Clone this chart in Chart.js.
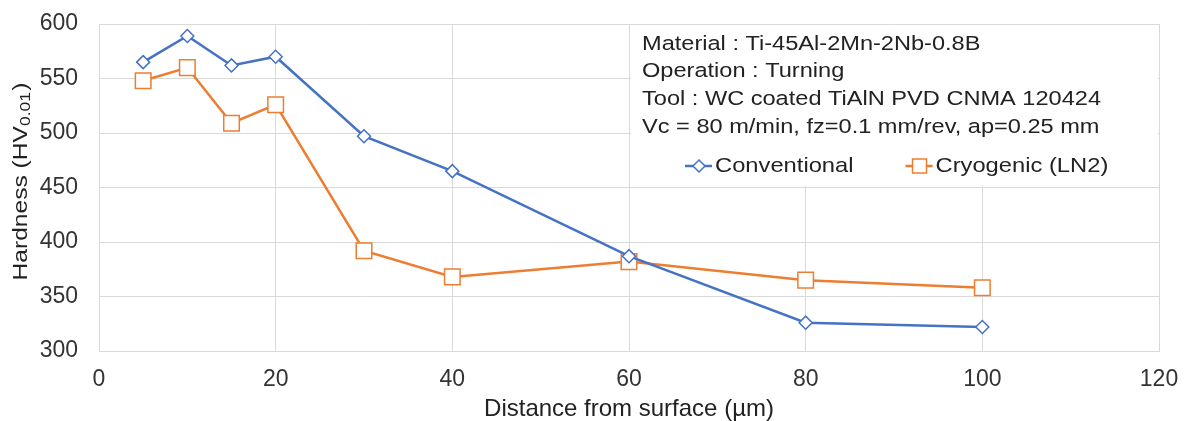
<!DOCTYPE html>
<html>
<head>
<meta charset="utf-8">
<script src="https://cdn.jsdelivr.net/npm/chart.js@4.4.1/dist/chart.umd.min.js"></script>
<style>
body { margin: 0; background: #fff; }
</style>
</head>
<body>
<canvas id="hardness_chart" width="1184" height="421"></canvas>
<script>
var depth = [5, 10, 15, 20, 30, 40, 60, 80, 100];
var conventional = [565, 589, 562, 570, 497, 465, 387, 326, 322];
var cryogenic = [548, 560, 509, 526, 392, 368, 382, 365, 358];
var series_names = ["Conventional", "Cryogenic (LN2)"];
var x_ticks = [0, 20, 40, 60, 80, 100, 120];
var y_ticks = [300, 350, 400, 450, 500, 550, 600];
var notes = [
    "Material : Ti-45Al-2Mn-2Nb-0.8B",
    "Operation : Turning",
    "Tool : WC coated TiAlN PVD CNMA 120424",
    "Vc = 80 m/min, fz=0.1 mm/rev, ap=0.25 mm"
];

var font_family = "'Liberation Sans', Arial, sans-serif";
var text_color = "#222";
var tick_color = "#333";
var blue = "#4472C4";
var orange = "#ED7D31";
var stretch = 1.15;   // the source font is a bit wider than Liberation Sans

function points(ys) {
    return depth.map(function(x, i) { return {x: x, y: ys[i]}; });
}

function wide_text(ctx, text, x, y, sx) {
    ctx.save();
    ctx.translate(x, y);
    ctx.scale(sx, 1);
    ctx.fillText(text, 0, 0);
    ctx.restore();
    return ctx.measureText(text).width * sx;
}

// white note box with text + legend, sits over the grid
var notes_box = {
    id: "notes_box",
    beforeDatasetsDraw: function(chart) {
        var ctx = chart.ctx;
        var area = chart.chartArea;
        var xs = chart.scales.x, ys = chart.scales.y;
        var left = xs.getPixelForValue(60) + 2;
        var top = area.top + 1;
        var bottom = ys.getPixelForValue(450) - 2;
        ctx.save();
        ctx.fillStyle = "#fff";
        ctx.fillRect(left, top, area.right - 1 - left, bottom - top);

        ctx.fillStyle = text_color;
        ctx.font = "20.5px " + font_family;
        ctx.textBaseline = "middle";
        ctx.textAlign = "left";
        for (var i = 0; i < notes.length; i++) {
            wide_text(ctx, notes[i], left + 11, top + 19 + i * 27.7, stretch);
        }

        // legend
        var colors = [blue, orange];
        var lx = left + 54, ly = top + 141;
        ctx.font = "21px " + font_family;
        for (var k = 0; k < series_names.length; k++) {
            ctx.strokeStyle = colors[k];
            ctx.lineWidth = 2.5;
            ctx.beginPath();
            ctx.moveTo(lx, ly);
            ctx.lineTo(lx + 27, ly);
            ctx.stroke();
            var cx = lx + 14;
            ctx.fillStyle = "#fff";
            ctx.lineWidth = 1.5;
            ctx.beginPath();
            if (k == 0) {
                ctx.moveTo(cx - 6, ly);
                ctx.lineTo(cx, ly - 6);
                ctx.lineTo(cx + 6, ly);
                ctx.lineTo(cx, ly + 6);
                ctx.closePath();
            } else {
                ctx.rect(cx - 7, ly - 7, 14, 14);
            }
            ctx.fill();
            ctx.stroke();
            ctx.fillStyle = text_color;
            var w = wide_text(ctx, series_names[k], lx + 30, ly, 1.13);
            lx = lx + 30 + w + 52;
        }
        ctx.restore();
    }
};

// y title with subscript
var y_title = {
    id: "y_title",
    afterDraw: function(chart) {
        var ctx = chart.ctx;
        var area = chart.chartArea;
        var big = "21px " + font_family, small = "15px " + font_family;
        var a = "Hardness (HV", b = "0.01", c = ")";
        var sx = 1.17;
        ctx.save();
        ctx.font = big;
        var wa = ctx.measureText(a).width, wc = ctx.measureText(c).width;
        ctx.font = small;
        var wb = ctx.measureText(b).width;
        var total = (wa + wb + wc + 1) * sx;
        ctx.translate(21, (area.top + area.bottom) / 2 - 6);
        ctx.rotate(-Math.PI / 2);
        ctx.scale(sx, 1);
        ctx.fillStyle = text_color;
        ctx.textBaseline = "middle";
        ctx.textAlign = "left";
        var x0 = -total / 2 / sx;
        ctx.font = big;
        ctx.fillText(a, x0, 0);
        ctx.font = small;
        ctx.fillText(b, x0 + wa, 5);
        ctx.font = big;
        ctx.fillText(c, x0 + wa + wb + 1, 0);
        ctx.restore();
    }
};

function no_label_padding(axis) {
    axis.paddingTop = 0;
    axis.paddingBottom = 0;
    axis.paddingLeft = 0;
    axis.paddingRight = 0;
}

var config = {
    type: "line",
    data: {
        datasets: [{
            label: series_names[0],
            data: points(conventional),
            borderColor: blue,
            backgroundColor: "#fff",
            borderWidth: 2.5,
            pointStyle: "rectRot",
            pointRadius: 6.5,
            pointBorderWidth: 1.5,
            pointBorderColor: blue,
            pointBackgroundColor: "#fff"
        }, {
            label: series_names[1],
            data: points(cryogenic),
            borderColor: orange,
            backgroundColor: "#fff",
            borderWidth: 2.5,
            pointStyle: "rect",
            pointRadius: 11,
            pointBorderWidth: 1.5,
            pointBorderColor: orange,
            pointBackgroundColor: "#fff"
        }]
    },
    options: {
        responsive: false,
        animation: false,
        layout: {
            autoPadding: false,
            padding: {left: 0, right: 25, top: 24, bottom: 0}
        },
        plugins: {
            legend: { display: false },
            tooltip: { enabled: false }
        },
        scales: {
            x: {
                type: "linear",
                min: 0,
                max: 120,
                afterBuildTicks: function(axis) {
                    axis.ticks = x_ticks.map(function(v) { return {value: v}; });
                },
                afterFit: function(axis) { axis.height = 70; no_label_padding(axis); },
                grid: { color: "#d9d9d9", lineWidth: 1, drawTicks: false },
                border: { color: "#d9d9d9" },
                ticks: {
                    padding: 15,
                    color: tick_color,
                    font: { size: 23, family: font_family }
                },
                title: {
                    display: true,
                    text: "Distance from surface (µm)",
                    color: text_color,
                    padding: {top: 0, bottom: -3},
                    font: { size: 24, family: font_family }
                }
            },
            y: {
                type: "linear",
                min: 300,
                max: 600,
                afterBuildTicks: function(axis) {
                    axis.ticks = y_ticks.map(function(v) { return {value: v}; });
                },
                afterFit: function(axis) { axis.width = 99; no_label_padding(axis); },
                grid: { color: "#d9d9d9", lineWidth: 1, drawTicks: false },
                border: { color: "#d9d9d9" },
                ticks: {
                    padding: 21,
                    color: tick_color,
                    font: { size: 23, family: font_family }
                }
            }
        }
    },
    plugins: [notes_box, y_title]
};

var hardness_chart = new Chart(document.getElementById("hardness_chart").getContext("2d"), config);
</script>
</body>
</html>
